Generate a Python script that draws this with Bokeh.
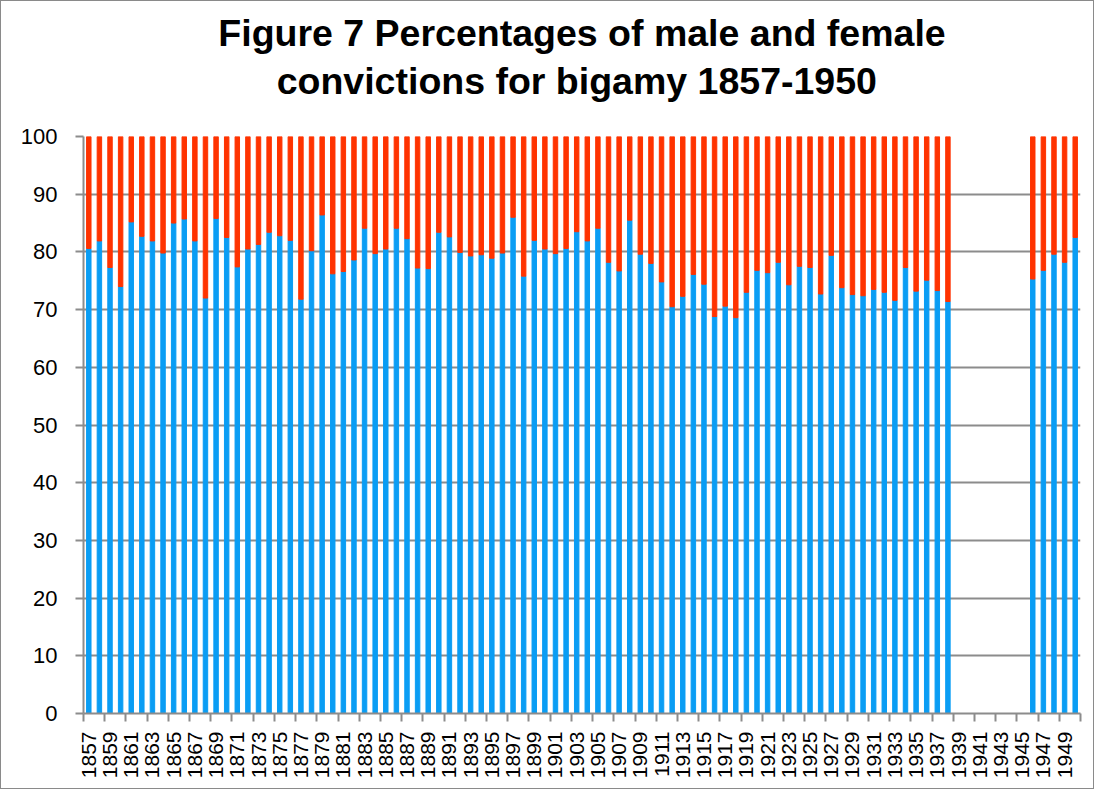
import math
from bokeh.plotting import figure
from bokeh.models import Range1d, FixedTicker, Title, ColumnDataSource
from bokeh.embed import file_html
from bokeh.resources import INLINE

years = list(range(1857, 1939)) + list(range(1946, 1951))
male_pct = [
    80.6, 81.9, 77.3, 74.0, 85.2, 82.7, 81.9, 79.8, 85.0, 85.7,   # 1857-1866
    81.9, 72.0, 85.8, 82.5, 77.4, 80.5, 81.3, 83.4, 82.8, 82.0,   # 1867-1876
    71.8, 80.2, 86.4, 76.2, 76.6, 78.6, 84.1, 79.7, 80.5, 84.1,   # 1877-1886
    82.3, 77.2, 77.1, 83.4, 82.6, 79.9, 79.3, 79.5, 78.9, 79.8,   # 1887-1896
    86.0, 75.8, 82.0, 80.5, 79.7, 80.6, 83.5, 81.9, 84.1, 78.2,   # 1897-1906
    76.7, 85.5, 79.6, 78.0, 74.8, 70.5, 72.3, 76.1, 74.4, 68.8,   # 1907-1916
    70.6, 68.6, 73.0, 76.8, 76.4, 78.2, 74.3, 77.5, 77.3, 72.7,   # 1917-1926
    79.4, 73.8, 72.6, 72.4, 73.5, 73.0, 71.6, 77.3, 73.2, 75.1,   # 1927-1936
    73.3, 71.4,                                                   # 1937-1938
    75.3, 76.8, 79.6, 78.2, 82.5,                                 # 1946-1950
]
female_pct = [round(100 - m, 1) for m in male_pct]
tick_label_years = list(range(1857, 1950, 2))
y_ticks = list(range(0, 101, 10))
title_line1 = "Figure 7 Percentages of male and female"
title_line2 = "convictions for bigamy  1857-1950"

src = ColumnDataSource(dict(
    year=years,
    male=male_pct,
    total=[m + f for m, f in zip(male_pct, female_pct)],
))

BLUE = "#0A9DF4"
RED = "#FF3300"
GRID = "#8C8C8C"
FONT = "Liberation Sans"

p = figure(
    width=1094, height=789,
    x_range=Range1d(years[0] - 0.5, 1950.5),
    y_range=Range1d(0, 100),
    output_backend="svg", toolbar_location=None,
    title=title_line1,
    min_border_left=82, min_border_right=15, min_border_top=135, min_border_bottom=77,
)
p.styles = {"border": "1px solid #8a8a8a"}

p.title.align = "center"
p.title.text_font = FONT
p.title.text_font_size = "37.5px"
p.title.text_font_style = "bold"
p.title.text_color = "black"
p.title.standoff = -62
p.add_layout(Title(text=title_line2, align="center", standoff=70,
                   text_font=FONT, text_font_size="37.5px", text_font_style="bold",
                   text_color="black"), "above")

p.vbar(x="year", bottom=0, top="male", width=0.42, color=BLUE, source=src)
p.vbar(x="year", bottom="male", top="total", width=0.42, color=RED, source=src)

p.outline_line_color = None
p.background_fill_color = "white"
p.border_fill_color = "white"

p.xgrid.visible = False
p.ygrid.grid_line_color = GRID
p.ygrid.grid_line_width = 2
p.ygrid.ticker = FixedTicker(ticks=y_ticks[1:])

xa = p.xaxis[0]
xa.ticker = FixedTicker(ticks=tick_label_years,
                        minor_ticks=[years[0] - 0.5 + 2 * k for k in range(48)])
xa.major_label_orientation = math.pi / 2
xa.major_tick_out = 0
xa.major_tick_in = 0
xa.minor_tick_out = 8
xa.minor_tick_in = 0
xa.minor_tick_line_color = GRID
xa.minor_tick_line_width = 2
xa.axis_line_color = GRID
xa.axis_line_width = 2
xa.major_label_text_font = FONT
xa.major_label_text_font_size = "21px"
xa.major_label_text_color = "black"
xa.major_label_standoff = 10

ya = p.yaxis[0]
ya.ticker = FixedTicker(ticks=y_ticks)
ya.major_tick_out = 8
ya.major_tick_in = 0
ya.minor_tick_out = 0
ya.minor_tick_in = 0
ya.major_tick_line_color = GRID
ya.major_tick_line_width = 2
ya.axis_line_color = GRID
ya.axis_line_width = 2
ya.major_label_text_font = FONT
ya.major_label_text_font_size = "22px"
ya.major_label_text_color = "black"
ya.major_label_standoff = 18

open("out.html", "w").write(file_html(p, INLINE))
